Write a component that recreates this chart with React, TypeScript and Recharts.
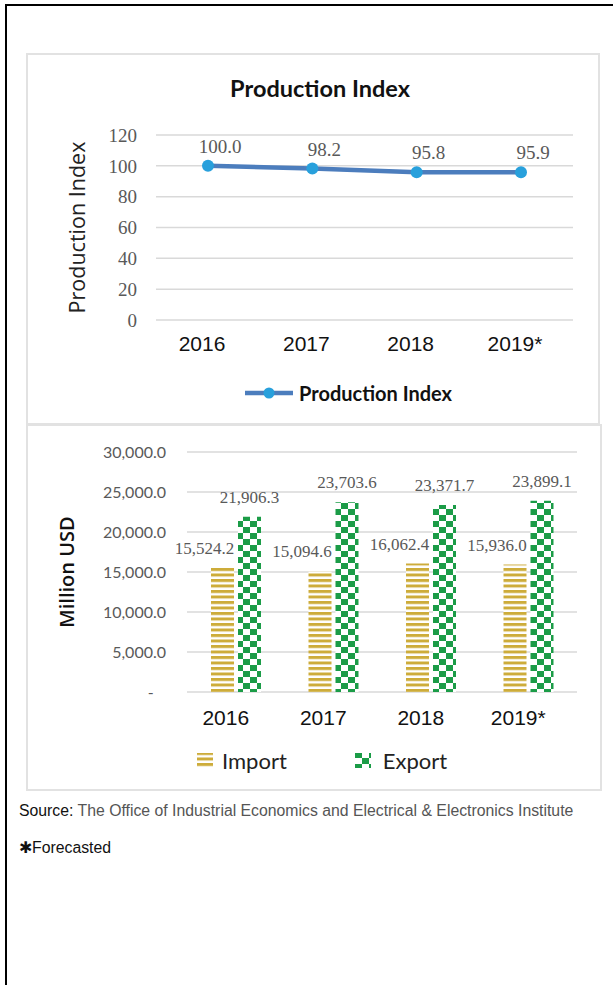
import {
  Bar,
  BarChart,
  CartesianGrid,
  LabelList,
  Line,
  LineChart,
  XAxis,
  YAxis,
} from "recharts";

const YEARS = ["2016", "2017", "2018", "2019*"];
const PRODUCTION_INDEX = [100.0, 98.2, 95.8, 95.9];
const IMPORTS = [15524.2, 15094.6, 16062.4, 15936.0];
const EXPORTS = [21906.3, 23703.6, 23371.7, 23899.1];
const INDEX_TICKS = [0, 20, 40, 60, 80, 100, 120];
const USD_TICKS = [0, 5000, 10000, 15000, 20000, 25000, 30000];

const indexData = YEARS.map((year, i) => ({ year, index: PRODUCTION_INDEX[i] }));
const tradeData = YEARS.map((year, i) => ({
  year,
  import: IMPORTS[i],
  export: EXPORTS[i],
}));

const GRID = "#d9d9d9";
const LABEL_GRAY = "#595959";
const LINE_BLUE = "#4c7dbd";
const DOT_BLUE = "#28a0dc";
const GOLD = "#cdac3a";
const GREEN = "#1b9c47";

const SERIF = "'Liberation Serif', serif";
const SANS = "'Liberation Sans', Arial, sans-serif";
const CAL = "Lato, 'Open Sans', sans-serif";

const fmtOne = (v: number) =>
  v.toLocaleString("en-US", { minimumFractionDigits: 1, maximumFractionDigits: 1 });

function axisTitle(text: string, cx: number, style: React.CSSProperties) {
  return (props: any) => {
    const vb = props.viewBox ?? { x: 0, y: 0, width: 0, height: 0 };
    const x = vb.x + cx;
    const y = vb.y + vb.height / 2;
    return (
      <text
        x={x}
        y={y}
        transform={`rotate(-90 ${x} ${y})`}
        textAnchor="middle"
        dominantBaseline="central"
        style={style}
      >
        {text}
      </text>
    );
  };
}

function Patterns({ prefix }: { prefix: string }) {
  return (
    <defs>
      <pattern id={`${prefix}-stripes`} patternUnits="userSpaceOnUse" width="8" height="5.5">
        <rect width="8" height="5.5" fill="#fff" />
        <rect width="8" height="3" fill={GOLD} />
      </pattern>
      <pattern id={`${prefix}-checker`} patternUnits="userSpaceOnUse" width="14" height="12">
        <rect width="14" height="12" fill="#fff" />
        <rect x="0" y="0" width="7" height="6" fill={GREEN} />
        <rect x="7" y="6" width="7" height="6" fill={GREEN} />
      </pattern>
    </defs>
  );
}

export default function App() {
  return (
    <div
      style={{
        position: "absolute",
        left: 0,
        top: 0,
        width: 613,
        height: 985,
        background: "#fff",
        overflow: "hidden",
      }}
    >
      {/* page frame: top and left edges only */}
      <div style={{ position: "absolute", left: 5, top: 4, width: 608, height: 2, background: "#000" }} />
      <div style={{ position: "absolute", left: 5, top: 4, width: 2, height: 981, background: "#000" }} />

      {/* production index panel */}
      <div
        style={{
          position: "absolute",
          left: 26,
          top: 53,
          width: 570,
          height: 368,
          border: "2px solid #e2e2e2",
        }}
      />
      <div
        style={{
          position: "absolute",
          left: 200,
          top: 73,
          width: 240,
          textAlign: "center",
          fontFamily: CAL,
          fontWeight: 700,
          fontSize: 23.5,
          lineHeight: "30px",
          color: "#111",
        }}
      >
        Production Index
      </div>
      <div style={{ position: "absolute", left: 26, top: 53 }}>
        <LineChart
          width={572}
          height={370}
          data={indexData}
          margin={{ top: 82, right: 25, left: 0, bottom: 63 }}
        >
          <CartesianGrid vertical={false} stroke={GRID} strokeWidth={1.5} />
          <XAxis
            dataKey="year"
            axisLine={false}
            tickLine={false}
            tickSize={0}
            tickMargin={16}
            height={40}
            dx={-6}
            padding={{ left: 52, right: 52 }}
            tick={{ fill: "#111", fontSize: 21, fontFamily: SANS }}
          />
          <YAxis
            domain={[0, 120]}
            ticks={INDEX_TICKS}
            axisLine={false}
            tickLine={false}
            tickSize={0}
            tickMargin={19}
            width={130}
            tick={{ fill: LABEL_GRAY, fontSize: 19, fontFamily: SERIF }}
            label={axisTitle("Production Index", 50, {
              fontFamily: "'Open Sans', sans-serif",
              fontSize: 21.5,
              fill: "#222",
            })}
          />
          <Line
            type="linear"
            dataKey="index"
            name="Production Index"
            stroke={LINE_BLUE}
            strokeWidth={4.5}
            dot={{ r: 6, fill: DOT_BLUE, stroke: DOT_BLUE, strokeWidth: 0 }}
            isAnimationActive={false}
          >
            <LabelList
              dataKey="index"
              position="top"
              offset={13}
              dx={12}
              formatter={(v: any) => fmtOne(Number(v))}
              style={{ fill: LABEL_GRAY, fontSize: 19, fontFamily: SERIF }}
            />
          </Line>
        </LineChart>
      </div>
      <div
        style={{
          position: "absolute",
          left: 245,
          top: 380,
          display: "flex",
          alignItems: "center",
          height: 26,
        }}
      >
        <svg width={50} height={14}>
          <line x1={0} y1={7} x2={48} y2={7} stroke={LINE_BLUE} strokeWidth={4.5} />
          <circle cx={24} cy={7} r={5.5} fill={DOT_BLUE} />
        </svg>
        <span
          style={{
            marginLeft: 4,
            fontFamily: CAL,
            fontWeight: 700,
            fontSize: 20,
            color: "#111",
          }}
        >
          Production Index
        </span>
      </div>

      {/* import / export panel */}
      <div
        style={{
          position: "absolute",
          left: 26,
          top: 424,
          width: 572,
          height: 363,
          border: "2px solid #e2e2e2",
        }}
      />
      <div style={{ position: "absolute", left: 26, top: 425 }}>
        <BarChart
          width={574}
          height={364}
          data={tradeData}
          margin={{ top: 27, right: 23, left: 0, bottom: 57 }}
          barSize={23}
          barGap={4}
        >
          <Patterns prefix="bar" />
          <CartesianGrid vertical={false} stroke={GRID} strokeWidth={1.5} />
          <XAxis
            dataKey="year"
            axisLine={false}
            tickLine={false}
            tickSize={0}
            tickMargin={18}
            height={40}
            dx={-10}
            tick={{ fill: "#111", fontSize: 21, fontFamily: SANS }}
          />
          <YAxis
            domain={[0, 30000]}
            ticks={USD_TICKS}
            axisLine={false}
            tickLine={false}
            tickSize={0}
            tickMargin={21}
            width={161}
            tickFormatter={(v: number) => (v === 0 ? "-\u00a0\u00a0\u00a0" : fmtOne(v))}
            tick={{ fill: LABEL_GRAY, fontSize: 16, fontFamily: CAL }}
            label={axisTitle("Million USD", 40, {
              fontFamily: "'Open Sans', sans-serif",
              fontWeight: 600,
              fontSize: 20,
              fill: "#111",
            })}
          />
          <Bar dataKey="import" name="Import" fill="url(#bar-stripes)" isAnimationActive={false}>
            <LabelList
              dataKey="import"
              position="top"
              offset={14}
              dx={-18}
              formatter={(v: any) => fmtOne(Number(v))}
              style={{ fill: LABEL_GRAY, fontSize: 17, fontFamily: SERIF }}
            />
          </Bar>
          <Bar dataKey="export" name="Export" fill="url(#bar-checker)" isAnimationActive={false}>
            <LabelList
              dataKey="export"
              position="top"
              offset={14}
              formatter={(v: any) => fmtOne(Number(v))}
              style={{ fill: LABEL_GRAY, fontSize: 17, fontFamily: SERIF }}
            />
          </Bar>
        </BarChart>
      </div>
      <div
        style={{
          position: "absolute",
          left: 197,
          top: 746,
          display: "flex",
          alignItems: "center",
          height: 28,
          fontFamily: CAL,
          fontSize: 22,
          color: "#222",
        }}
      >
        <svg width={16} height={16}>
          <Patterns prefix="leg" />
          <rect x={0} y={1} width={16} height={15} fill="url(#leg-stripes)" />
        </svg>
        <span style={{ marginLeft: 9 }}>Import</span>
        <svg width={16} height={16} style={{ marginLeft: 68 }}>
          <rect x={0} y={1} width={16} height={15} fill="url(#leg-checker)" />
        </svg>
        <span style={{ marginLeft: 12 }}>Export</span>
      </div>

      {/* notes */}
      <div
        style={{
          position: "absolute",
          left: 19,
          top: 802,
          fontFamily: SANS,
          fontSize: 15.8,
          color: "#555",
          whiteSpace: "nowrap",
        }}
      >
        <span style={{ color: "#111" }}>Source:</span> The Office of Industrial Economics and
        Electrical &amp; Electronics Institute
      </div>
      <div
        style={{
          position: "absolute",
          left: 19,
          top: 838,
          fontFamily: SANS,
          fontSize: 15.8,
          color: "#111",
        }}
      >
        ✱Forecasted
      </div>
    </div>
  );
}
